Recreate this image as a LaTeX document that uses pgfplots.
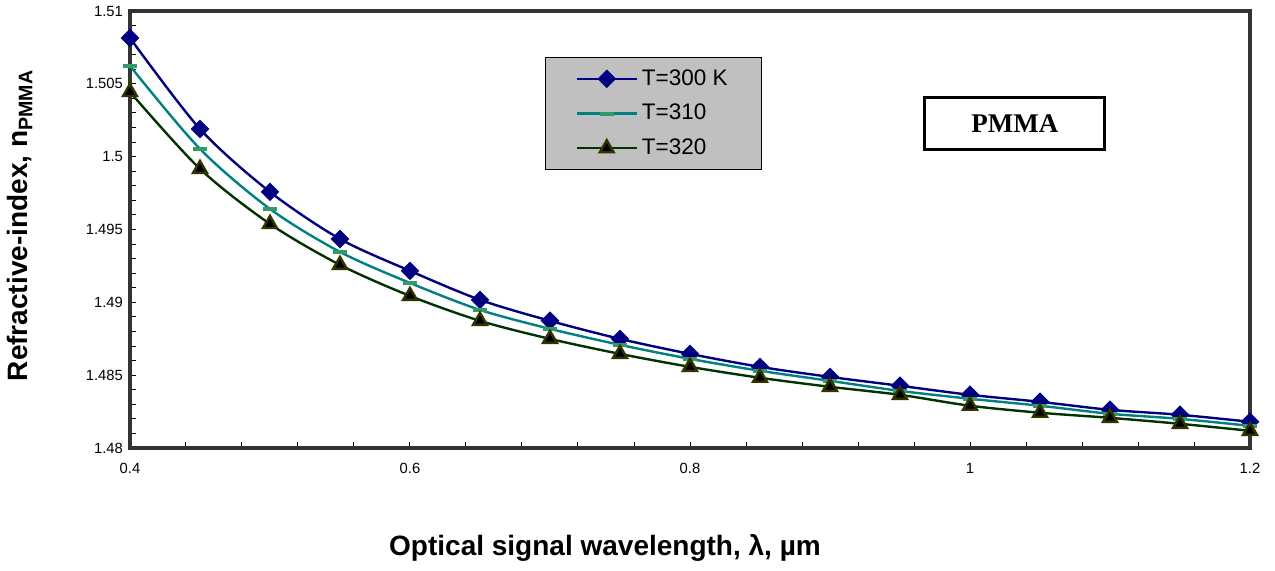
\documentclass[border=0pt]{standalone}
\usepackage{fontspec}
\setmainfont{Liberation Sans}
\newfontfamily\serifb{Liberation Serif}
\usepackage{pgfplots}
\pgfplotsset{compat=1.18}
\usetikzlibrary{calc}
\definecolor{cA}{RGB}{0,0,128}
\definecolor{cB}{RGB}{0,128,128}
\definecolor{cBm}{RGB}{51,153,102}
\definecolor{cC}{RGB}{0,51,0}
\definecolor{cCe}{RGB}{51,51,0}
\definecolor{legbg}{RGB}{192,192,192}
\definecolor{axc}{RGB}{51,51,51}
\begin{document}
\begin{tikzpicture}
\begin{axis}[
  scale only axis,
  width=560pt, height=218.5pt,
  xmin=0.4, xmax=1.2, ymin=1.48, ymax=1.51,
  xtick={0.4,0.6,0.8,1,1.2},
  ytick={1.48,1.485,1.49,1.495,1.5,1.505,1.51},
  minor x tick num=4, minor y tick num=4,
  xtick pos=bottom, ytick pos=left,
  /pgf/number format/assume math mode=true,
  yticklabel style={/pgf/number format/precision=3, font=\fontsize{7.4}{8}\selectfont},
  xticklabel style={font=\fontsize{7.4}{8}\selectfont, yshift=-4pt},
  tick align=inside,
  major tick length=3pt, minor tick length=3pt,
  tick style={black, line width=0.5pt},
  axis line style={line width=2pt, draw=axc},
  xlabel={Optical signal wavelength, λ, µm},
  ylabel={Refractive-index, n\textsubscript{PMMA}},
  label style={font=\bfseries\fontsize{14}{16}\selectfont},
  xlabel style={at={(axis description cs:0.5,0)}, anchor=center, yshift=-50pt, xshift=-42.5pt},
  ylabel style={at={(axis description cs:0,0.5)}, anchor=center, xshift=2pt, yshift=55pt},
  legend style={at={(0.3705,0.895)}, anchor=north west, fill=legbg, draw=black, line width=0.6pt,
    font=\fontsize{11.25}{13}\selectfont, inner xsep=15pt, inner ysep=4pt, row sep=4pt},
  legend cell align=left,
  legend image code/.code={\draw[mark repeat=2,mark phase=2] plot coordinates {(0pt,0pt) (15pt,0pt) (30pt,0pt)};},
]
\addplot[cA, line width=1.2pt, smooth, mark=square*, mark size=2.7pt, mark options={rotate=45, fill=cA, draw=cA}] coordinates {
(0.4,1.50815) (0.45,1.5019) (0.5,1.49758) (0.55,1.49435) (0.6,1.49216) (0.65,1.49017)
(0.7,1.48873) (0.75,1.48749) (0.8,1.48646) (0.85,1.48557) (0.9,1.48488) (0.95,1.48427)
(1.0,1.48365) (1.05,1.48317) (1.1,1.48262) (1.15,1.48228) (1.2,1.4818)};
\addlegendentry{T=300 K}
\addplot[cB, line width=1.2pt, smooth, mark=-, mark size=3.5pt, mark options={draw=cBm, line width=2pt}] coordinates {
(0.4,1.50623) (0.45,1.50053) (0.5,1.49641) (0.55,1.49346) (0.6,1.49133) (0.65,1.48948)
(0.7,1.48818) (0.75,1.48708) (0.8,1.48612) (0.85,1.4853) (0.9,1.48461) (0.95,1.48392)
(1.0,1.48338) (1.05,1.4829) (1.1,1.48235) (1.15,1.482) (1.2,1.48152)};
\addlegendentry{T=310}
\addplot[cC, line width=1.2pt, smooth, mark=triangle*, mark size=4pt, mark options={fill=black, draw=cCe, line width=1.2pt}] coordinates {
(0.4,1.50444) (0.45,1.49916) (0.5,1.49538) (0.55,1.49257) (0.6,1.49044) (0.65,1.48873)
(0.7,1.48749) (0.75,1.48646) (0.8,1.48557) (0.85,1.48482) (0.9,1.4842) (0.95,1.48365)
(1.0,1.4829) (1.05,1.48242) (1.1,1.48207) (1.15,1.48166) (1.2,1.48118)};
\addlegendentry{T=320}
\node[draw=black, line width=1.5pt, fill=white, minimum width=90pt, minimum height=26pt,
  font=\serifb\bfseries\fontsize{13.5}{15}\selectfont] at (axis cs:1.032,1.50225) {PMMA};
\end{axis}
\pgfresetboundingbox
\path[use as bounding box] ($(current axis.south west)+(-65pt,-61.5pt)$) rectangle ($(current axis.north east)+(12.5pt,5.5pt)$);
\end{tikzpicture}
\end{document}
